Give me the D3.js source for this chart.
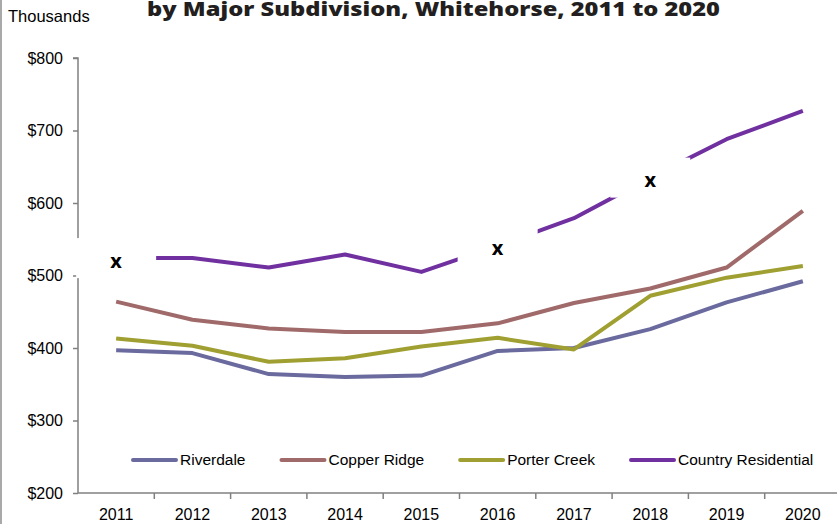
<!DOCTYPE html>
<html>
<head>
<meta charset="utf-8">
<script src="https://cdn.jsdelivr.net/npm/d3@7"></script>
<style>
  body { margin: 0; background: #fff; }
  svg { display: block; font-family: "Liberation Sans", Arial, sans-serif; }
</style>
</head>
<body>
<svg id="chart" width="837" height="524"></svg>
<script>
// chart data
const years = ["2011","2012","2013","2014","2015","2016","2017","2018","2019","2020"];
const riverdale   = [397, 393, 364, 360, 362, 396, 400, 426, 463, 492];
const copperRidge = [464, 439, 427, 422, 422, 434, 462, 482, 511, 589];
const porterCreek = [413, 403, 381, 386, 402, 414, 398, 472, 497, 513];
const countryRes  = [524, 524, 511, 529, 505, 541, 579, 635, 688, 727];
const seriesNames = ["Riverdale", "Copper Ridge", "Porter Creek", "Country Residential"];
const yTicks = [200, 300, 400, 500, 600, 700, 800];
// years where the Country Residential value is suppressed ("x")
const suppressedYears = ["2011", "2016", "2018"];

const colors = ["#6a6a9e", "#a06a6a", "#a0a032", "#7030a0"];
const allSeries = [riverdale, copperRidge, porterCreek, countryRes];

const svg = d3.select("#chart"),
    plotLeft = 78, plotRight = 841, plotTop = 58, plotBottom = 493;

// x: one band per year, tick marks between bands
const x = d3.scaleBand().domain(years).range([plotLeft, plotRight]).paddingInner(0).paddingOuter(0);
const y = d3.scaleLinear().domain([200, 800]).range([plotBottom, plotTop]);
const cx = d => x(d) + x.bandwidth() / 2;

// left border of chart area
svg.append("line")
    .attr("x1", 1).attr("x2", 1).attr("y1", 0).attr("y2", 524)
    .attr("stroke", "#8c8c8c").attr("stroke-width", 1.5);

// title (its first line sits above the picture in the original)
svg.append("text")
    .attr("x", 147).attr("y", 16)
    .attr("textLength", 573).attr("lengthAdjust", "spacingAndGlyphs")
    .style("font-family", "'Open Sans', sans-serif")
    .style("font-weight", 800).style("font-size", "20px")
    .attr("fill", "#231f20")
    .text("by Major Subdivision, Whitehorse, 2011 to 2020");

svg.append("text")
    .attr("x", 8).attr("y", 22)
    .style("font-size", "16.5px").attr("fill", "#000")
    .text("Thousands");

// y axis
const yAxis = svg.append("g")
    .attr("transform", `translate(${plotLeft},0)`)
    .call(d3.axisLeft(y).tickValues(yTicks).tickSize(5).tickPadding(10).tickFormat(d => "$" + d));
yAxis.select(".domain").attr("stroke", "#808080").attr("stroke-width", 1.5).attr("d", `M-5,${plotTop}H0V${plotBottom}`);
yAxis.selectAll(".tick line").attr("stroke", "#808080").attr("stroke-width", 1.5);
yAxis.selectAll(".tick text").style("font-size", "16px").attr("fill", "#000").style("font-family", "'Liberation Sans', Arial");

// x axis
const xAxis = svg.append("g")
    .attr("transform", `translate(0,${plotBottom})`)
    .call(d3.axisBottom(x).tickSize(0).tickPadding(16));
xAxis.select(".domain").attr("stroke", "#808080").attr("stroke-width", 1.5).attr("d", `M${plotLeft},0H${plotRight}`);
xAxis.selectAll(".tick text").style("font-size", "16px").attr("fill", "#000").style("font-family", "'Liberation Sans', Arial");
xAxis.selectAll(".sep")
    .data(years)
    .enter().append("line")
    .attr("class", "sep")
    .attr("x1", d => x(d) + x.bandwidth())
    .attr("x2", d => x(d) + x.bandwidth())
    .attr("y1", 0).attr("y2", 6)
    .attr("stroke", "#808080").attr("stroke-width", 1.5);

// lines
const line = d3.line()
    .x((d, i) => cx(years[i]))
    .y(d => y(d));

svg.selectAll(".series")
    .data(allSeries)
    .enter().append("path")
    .attr("class", "series")
    .attr("d", line)
    .attr("fill", "none")
    .attr("stroke", (d, i) => colors[i])
    .attr("stroke-width", 4)
    .attr("stroke-linejoin", "round");

// suppressed-value labels with white boxes over the line
const marks = svg.selectAll(".supp")
    .data(suppressedYears)
    .enter().append("g")
    .attr("class", "supp")
    .attr("transform", d => `translate(${cx(d)},${y(countryRes[years.indexOf(d)])})`);
marks.append("rect")
    .attr("x", -40).attr("y", -20).attr("width", 80).attr("height", 40)
    .attr("fill", "#fff");
marks.append("text")
    .attr("text-anchor", "middle").attr("y", 9.5)
    .style("font-family", "'Open Sans', sans-serif")
    .style("font-weight", 700).style("font-size", "20px")
    .attr("fill", "#000")
    .text("x");

// legend
const legend = svg.append("g").attr("transform", "translate(133,460)");
let lx = 0;
seriesNames.forEach(function(name, i) {
    const g = legend.append("g").attr("transform", `translate(${lx},0)`);
    g.append("line")
        .attr("x1", 0).attr("x2", 43).attr("y1", 0).attr("y2", 0)
        .attr("stroke", colors[i]).attr("stroke-width", 4).attr("stroke-linecap", "round");
    const t = g.append("text")
        .attr("x", 47).attr("dy", "0.35em")
        .style("font-size", "15.5px").attr("fill", "#000")
        .text(name);
    lx += 47 + t.node().getComputedTextLength() + 36;
});
</script>
</body>
</html>
